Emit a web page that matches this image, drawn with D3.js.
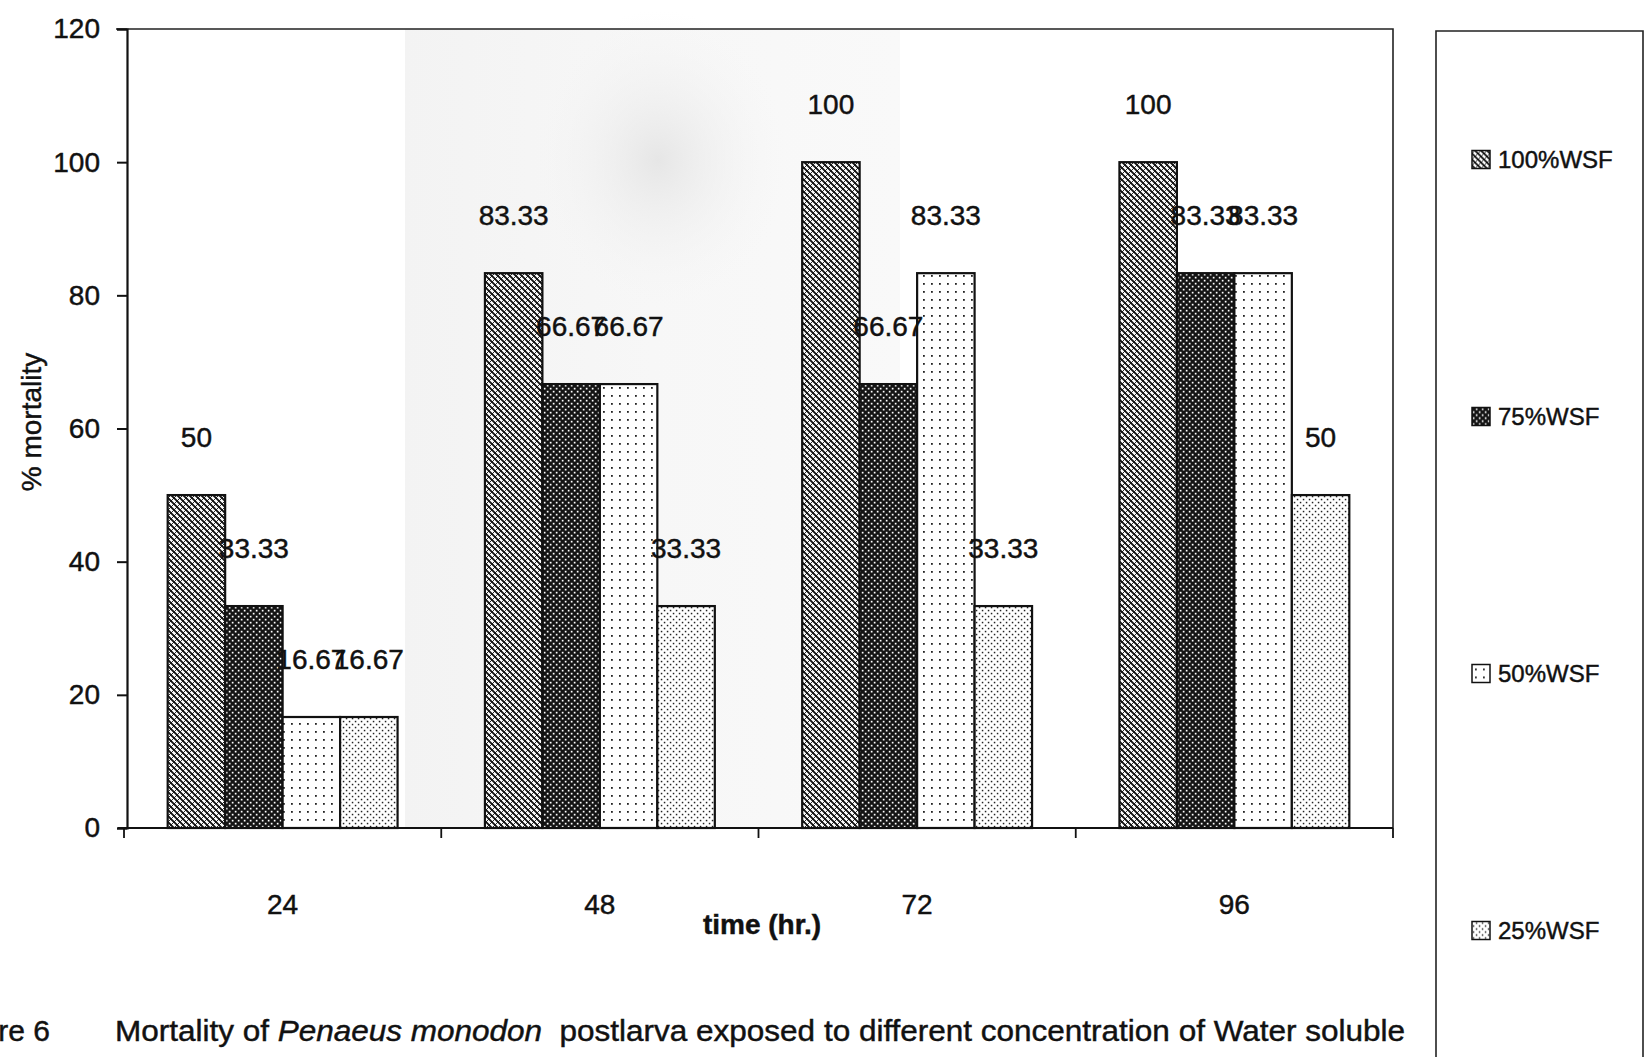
<!DOCTYPE html>
<html>
<head>
<meta charset="utf-8">
<script src="https://cdn.jsdelivr.net/npm/d3@7"></script>
<style>
  html, body { margin: 0; padding: 0; background: #fff; }
  svg { display: block; }
  text { font-family: "Liberation Sans", Arial, Helvetica, sans-serif; fill: #111; stroke: #111; stroke-width: 0.45px; }
</style>
</head>
<body>
<svg id="chart" width="1645" height="1057"></svg>
<script>
// Mortality (%) by exposure time and WSF concentration
const categories = ["24", "48", "72", "96"];
const series = ["100%WSF", "75%WSF", "50%WSF", "25%WSF"];
const values100 = [50, 83.33, 100, 100];
const values75 = [33.33, 66.67, 66.67, 83.33];
const values50 = [16.67, 66.67, 83.33, 83.33];
const values25 = [16.67, 33.33, 33.33, 50];
const yTicks = [0, 20, 40, 60, 80, 100, 120];
const valueSets = [values100, values75, values50, values25];

const svg = d3.select("#chart");
const W = 1645, H = 1057;

// plot frame
const plot = { left: 124, right: 1393, top: 29, bottom: 828 };

// hatch patterns for the four series
const defs = svg.append("defs");
function pat(id, size, build) {
  const p = defs.append("pattern").attr("id", id)
    .attr("patternUnits", "userSpaceOnUse").attr("width", size).attr("height", size);
  build(p, size);
}
pat("p100", 6, (p, s) => {
  p.append("rect").attr("width", s).attr("height", s).attr("fill", "#fff");
  p.append("path").attr("d", "M0,0L6,6M-3,3L3,9M3,-3L9,3")
    .attr("stroke", "#111").attr("stroke-width", 1.9);
  p.append("path").attr("d", "M0,6L6,0M-3,3L3,-3M3,9L9,3")
    .attr("stroke", "#111").attr("stroke-width", 0.9);
});
pat("p75", 6, (p, s) => {
  p.append("rect").attr("width", s).attr("height", s).attr("fill", "#141414");
  p.append("rect").attr("x", 0.8).attr("y", 0.8).attr("width", 1.7).attr("height", 1.7).attr("fill", "#fff");
  p.append("rect").attr("x", 3.8).attr("y", 3.8).attr("width", 1.7).attr("height", 1.7).attr("fill", "#fff");
});
pat("p50", 8, (p, s) => {
  p.append("rect").attr("width", s).attr("height", s).attr("fill", "#fff");
  p.append("rect").attr("x", 3).attr("y", 3).attr("width", 1.8).attr("height", 1.8).attr("fill", "#222");
});
pat("p25", 6, (p, s) => {
  p.append("rect").attr("width", s).attr("height", s).attr("fill", "#fff");
  p.append("rect").attr("x", 0.8).attr("y", 0.8).attr("width", 1.5).attr("height", 1.5).attr("fill", "#222");
  p.append("rect").attr("x", 3.8).attr("y", 3.8).attr("width", 1.5).attr("height", 1.5).attr("fill", "#222");
});
const fills = ["url(#p100)", "url(#p75)", "url(#p50)", "url(#p25)"];

// faint seal watermark printed on the page
const wmBand = defs.append("linearGradient").attr("id", "wmBand");
wmBand.append("stop").attr("offset", "0%").attr("stop-color", "#f3f3f3");
wmBand.append("stop").attr("offset", "50%").attr("stop-color", "#f7f7f7");
wmBand.append("stop").attr("offset", "100%").attr("stop-color", "#f9f9f9");
const wm = defs.append("radialGradient").attr("id", "wm");
wm.append("stop").attr("offset", "0%").attr("stop-color", "#e6e6e6");
wm.append("stop").attr("offset", "100%").attr("stop-color", "#f6f6f6").attr("stop-opacity", 0);
svg.append("rect").attr("x", 405).attr("y", plot.top).attr("width", 495)
  .attr("height", plot.bottom - plot.top).attr("fill", "url(#wmBand)");
svg.append("ellipse").attr("cx", 658).attr("cy", 160).attr("rx", 130).attr("ry", 150)
  .attr("fill", "url(#wm)");

// scales
const x0 = d3.scaleBand().domain(categories).range([plot.left, plot.right]).paddingInner(0).paddingOuter(0);
const x1 = d3.scaleBand().domain(series).range([0, x0.bandwidth()]).paddingInner(0).paddingOuter(0.76);
const y = d3.scaleLinear().domain([0, 120]).range([plot.bottom, plot.top]);

// plot border (top and right)
svg.append("path")
  .attr("d", `M${plot.left - 8},${y(120)}H${plot.right}V${y(0)}`)
  .attr("fill", "none").attr("stroke", "#222").attr("stroke-width", 1.6);

// bars
const rows = [];
categories.forEach((c, i) => {
  series.forEach((s, j) => rows.push({ c, s, j, v: valueSets[j][i] }));
});
svg.append("g").selectAll("rect").data(rows).join("rect")
  .attr("x", d => x0(d.c) + x1(d.s))
  .attr("y", d => y(d.v))
  .attr("width", x1.bandwidth())
  .attr("height", d => y(0) - y(d.v))
  .attr("fill", d => fills[d.j])
  .attr("stroke", "#111").attr("stroke-width", 2.2);

// value labels
svg.append("g").selectAll("text").data(rows).join("text")
  .attr("x", d => x0(d.c) + x1(d.s) + x1.bandwidth() / 2)
  .attr("y", d => y(d.v) - 48)
  .attr("text-anchor", "middle")
  .attr("font-size", 28)
  .text(d => d3.format("~f")(d.v));

// y axis
const yAxis = svg.append("g").attr("transform", `translate(${plot.left + 3},0)`)
  .call(d3.axisLeft(y).tickValues(yTicks).tickSize(10).tickPadding(17));
yAxis.select(".domain").attr("stroke", "#111").attr("stroke-width", 2.2);
yAxis.selectAll(".tick line").attr("stroke", "#111").attr("stroke-width", 2);
yAxis.selectAll(".tick text").attr("font-size", 28)
  .attr("font-family", "'Liberation Sans', Arial, sans-serif").attr("fill", "#111");

// x axis: baseline, boundary ticks and centred category labels
const xg = svg.append("g");
xg.append("line").attr("x1", plot.left - 6).attr("x2", plot.right)
  .attr("y1", y(0)).attr("y2", y(0)).attr("stroke", "#111").attr("stroke-width", 2.2);
const bounds = categories.map(c => x0(c)).concat([x0(categories[categories.length - 1]) + x0.bandwidth()]);
xg.selectAll("line.tk").data(bounds).join("line").attr("class", "tk")
  .attr("x1", d => d).attr("x2", d => d)
  .attr("y1", y(0)).attr("y2", y(0) + 10)
  .attr("stroke", "#111").attr("stroke-width", 1.8);
xg.selectAll("text").data(categories).join("text")
  .attr("x", d => x0(d) + x0.bandwidth() / 2)
  .attr("y", y(0) + 86)
  .attr("text-anchor", "middle").attr("font-size", 28)
  .text(d => d);

// axis titles
svg.append("text").attr("x", 762).attr("y", 934).attr("text-anchor", "middle")
  .attr("font-size", 28).attr("font-weight", "bold").text("time (hr.)");
svg.append("text").attr("transform", "translate(41,422) rotate(-90)")
  .attr("text-anchor", "middle").attr("font-size", 28).text("% mortality");

// legend
const legend = svg.append("g");
legend.append("path").attr("d", `M1436,${H + 2}V31H1643V${H + 2}`)
  .attr("fill", "none").attr("stroke", "#222").attr("stroke-width", 1.6);
const ly = d3.scaleBand().domain(series).range([31, 1059]);
const items = legend.selectAll("g.item").data(series).join("g").attr("class", "item")
  .attr("transform", d => `translate(1472,${ly(d) + ly.bandwidth() / 2})`);
items.append("rect").attr("x", 0).attr("y", -9).attr("width", 18).attr("height", 18)
  .attr("fill", (d, i) => fills[i]).attr("stroke", "#111").attr("stroke-width", 1.5);
items.append("text").attr("x", 26).attr("y", 0).attr("dy", "0.36em")
  .attr("font-size", 24).text(d => d);

// caption
svg.append("text").attr("x", 50).attr("y", 1041).attr("text-anchor", "end")
  .attr("font-size", 30).text("Figure 6");
const cap = svg.append("text").attr("x", 115).attr("y", 1041).attr("font-size", 30)
  .attr("textLength", 1290).attr("lengthAdjust", "spacingAndGlyphs");
cap.append("tspan").text("Mortality of ");
cap.append("tspan").attr("font-style", "italic").text("Penaeus monodon");
cap.append("tspan").text("\u00a0 postlarva exposed to different concentration of Water soluble");
</script>
</body>
</html>
